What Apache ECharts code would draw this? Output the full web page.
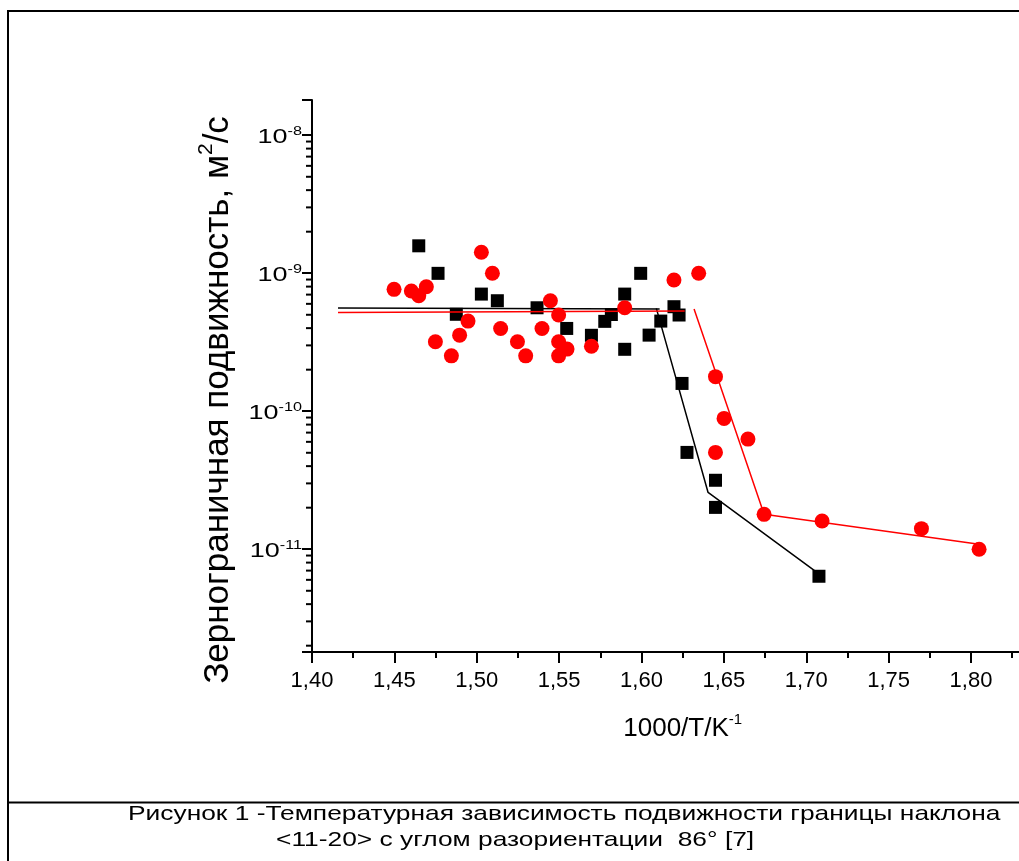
<!DOCTYPE html>
<html><head><meta charset="utf-8">
<script src="https://cdn.jsdelivr.net/npm/echarts@6/dist/echarts.min.js"></script>
<style>html,body{margin:0;padding:0;background:#fff}#c{width:1019px;height:861px}</style>
</head><body><div id="c"></div>
<script>
// ---- data ----
const squaresX = [1.4648,1.4765,1.4876,1.5028,1.5125,1.5366,1.5546,1.5696,1.5777,1.5817,1.5898,1.5898,1.5995,1.6046,1.6117,1.6197,1.6228,1.6246,1.6276,1.6449,1.6449,1.7077];
const squaresY = [1.58e-9,9.98e-10,5.04e-10,7.06e-10,6.32e-10,5.62e-10,3.98e-10,3.55e-10,4.48e-10,5.02e-10,7.06e-10,2.81e-10,9.98e-10,3.56e-10,4.5e-10,5.72e-10,4.98e-10,1.59e-10,5.03e-11,3.16e-11,2.01e-11,6.37e-12];
const circlesX = [1.4498,1.4603,1.4648,1.4694,1.4749,1.4846,1.4896,1.4947,1.5028,1.5095,1.5145,1.5247,1.5297,1.5396,1.5447,1.5497,1.5497,1.5497,1.5548,1.5696,1.5898,1.6197,1.6347,1.6449,1.6501,1.6646,1.6449,1.6744,1.7096,1.7699,1.8049];
const circlesY = [7.64e-10,7.43e-10,6.87e-10,7.98e-10,3.19e-10,2.52e-10,3.56e-10,4.5e-10,1.42e-9,1.0e-9,3.98e-10,3.19e-10,2.52e-10,3.98e-10,6.32e-10,4.98e-10,3.19e-10,2.52e-10,2.82e-10,2.96e-10,5.62e-10,8.93e-10,1.0e-9,1.78e-10,8.87e-11,6.28e-11,5.03e-11,1.79e-11,1.6e-11,1.41e-11,1.0e-11];
const blackFlatX = [1.4158, 1.6110];
const blackFlatY = [5.59e-10, 5.50e-10];
const blackDropX = [1.6090, 1.6404, 1.7077];
const blackDropY = [5.56e-10, 2.58e-11, 6.62e-12];
const redFlatX = [1.4158, 1.6262];
const redFlatY = [5.19e-10, 5.32e-10];
const redDropX = [1.6319, 1.6744, 1.8049];
const redDropY = [5.50e-10, 1.79e-11, 1.087e-11];
const yMajorTicks = [1e-11, 1e-10, 1e-9, 1e-8];
const yMinorTicks = [2e-12,3e-12,4e-12,5e-12,6e-12,7e-12,8e-12,9e-12,
  2e-11,3e-11,4e-11,5e-11,6e-11,7e-11,8e-11,9e-11,
  2e-10,3e-10,4e-10,5e-10,6e-10,7e-10,8e-10,9e-10,
  2e-9,3e-9,4e-9,5e-9,6e-9,7e-9,8e-9,9e-9];
const X_MIN = 1.40, X_MAX = 1.85, X_STEP = 0.05;
const Y_MIN = 1.8e-12, Y_MAX = 1.8e-8;
const yTitle = 'Зернограничная подвижность, м';
const xTitle = '1000/T/K';
const caption1 = 'Рисунок 1 -Температурная зависимость подвижности границы наклона';
const caption2 = '<11-20> с углом разориентации  86° [7]';

const zip = (a, b) => a.map((v, i) => [v, b[i]]);
const FONT = 'Liberation Sans, Arial, sans-serif';

const chart = echarts.init(document.getElementById('c'), null, {renderer: 'canvas'});
chart.setOption({
  backgroundColor: '#fff',
  animation: false,
  textStyle: {fontFamily: FONT},
  grid: {left: 312, top: 100, width: 741.4, height: 552, outerBoundsMode: 'none'},
  xAxis: {
    type: 'value', min: X_MIN, max: X_MAX, interval: X_STEP,
    name: '{a|' + xTitle + '}{s|-1}', nameLocation: 'middle', nameGap: 60,
    nameTextStyle: {rich: {
      a: {fontSize: 26, fontFamily: FONT, color: '#000', lineHeight: 30, verticalAlign: 'bottom'},
      s: {fontSize: 15, fontFamily: FONT, color: '#000', lineHeight: 30, verticalAlign: 'top'}
    }},
    axisLine: {show: true, onZero: false, lineStyle: {color: '#000', width: 2}},
    axisTick: {show: true, inside: false, length: 11, lineStyle: {color: '#000', width: 2}},
    minorTick: {show: true, splitNumber: 2, length: 6, lineStyle: {color: '#000', width: 2}},
    splitLine: {show: false},
    axisLabel: {fontSize: 22, color: '#000', fontFamily: FONT, margin: 18,
      formatter: v => v.toFixed(2).replace('.', ',')}
  },
  yAxis: {
    type: 'log', min: Y_MIN, max: Y_MAX, logBase: 10,
    axisLine: {show: true, onZero: false, lineStyle: {color: '#000', width: 2}},
    axisTick: {show: true, inside: false, length: 10, lineStyle: {color: '#000', width: 2}},
    splitLine: {show: false},
    axisLabel: {show: false}
  },
  graphic: [
    {type: 'rect', z: -10, shape: {x: 8, y: 11, width: 1200, height: 1000}, style: {fill: 'none', stroke: '#000', lineWidth: 2}},
    {type: 'line', z: -10, shape: {x1: 8, y1: 802.5, x2: 1100, y2: 802.5}, style: {stroke: '#000', lineWidth: 2}},
    {type: 'text', x: 128, y: 814, scaleX: 1.255, style: {text: caption1, font: '21px ' + FONT, fill: '#000', textAlign: 'left', textVerticalAlign: 'middle'}},
    {type: 'text', x: 276, y: 840, scaleX: 1.255, style: {text: caption2, font: '21px ' + FONT, fill: '#000', textAlign: 'left', textVerticalAlign: 'middle'}},
    {type: 'text', x: 216, y: 400, rotation: Math.PI / 2,
      style: {text: '{a|' + yTitle + '}{s|2}{a|/с}', textAlign: 'center', textVerticalAlign: 'middle',
        rich: {
          a: {fontSize: 35, fontFamily: FONT, fill: '#000', lineHeight: 40, verticalAlign: 'bottom'},
          s: {fontSize: 21, fontFamily: FONT, fill: '#000', lineHeight: 40, verticalAlign: 'top'}
        }}}
  ],
  series: [
    {type: 'custom', silent: true, clip: false, data: yMinorTicks.map(v => [X_MIN, v]),
      renderItem: (params, api) => {
        const p = api.coord([api.value(0), api.value(1)]);
        return {type: 'line', shape: {x1: p[0] - 6, y1: p[1], x2: p[0], y2: p[1]}, style: {stroke: '#000', lineWidth: 2}};
      }},
    {type: 'custom', silent: true, clip: false, data: yMajorTicks.map(v => [X_MIN, v]),
      renderItem: (params, api) => {
        const v = api.value(1);
        const p = api.coord([api.value(0), v]);
        return {type: 'text', x: p[0] - 10, y: p[1] + 1, scaleX: 1.35,
          style: {text: '{b|10}{s|' + Math.round(Math.log10(v)) + '}', align: 'right', verticalAlign: 'middle',
            rich: {
              b: {fontSize: 20, fontFamily: FONT, fill: '#000', lineHeight: 22, verticalAlign: 'bottom'},
              s: {fontSize: 12, fontFamily: FONT, fill: '#000', lineHeight: 22, verticalAlign: 'top'}
            }}};
      }},
    {type: 'scatter', name: 'black', data: zip(squaresX, squaresY), symbol: 'rect', symbolSize: 13, itemStyle: {color: '#000', opacity: 1}, z: 2},
    {type: 'line', data: zip(blackFlatX, blackFlatY), symbol: 'none', lineStyle: {color: '#000', width: 1.5}, z: 3},
    {type: 'line', data: zip(blackDropX, blackDropY), symbol: 'none', lineStyle: {color: '#000', width: 1.5}, z: 3},
    {type: 'line', data: zip(redFlatX, redFlatY), symbol: 'none', lineStyle: {color: '#ff0000', width: 1.5}, z: 3},
    {type: 'line', data: zip(redDropX, redDropY), symbol: 'none', lineStyle: {color: '#ff0000', width: 1.5}, z: 3},
    {type: 'scatter', name: 'red', data: zip(circlesX, circlesY), symbol: 'circle', symbolSize: 15, itemStyle: {color: '#ff0000', opacity: 1}, z: 4}
  ]
});
</script>
</body></html>
